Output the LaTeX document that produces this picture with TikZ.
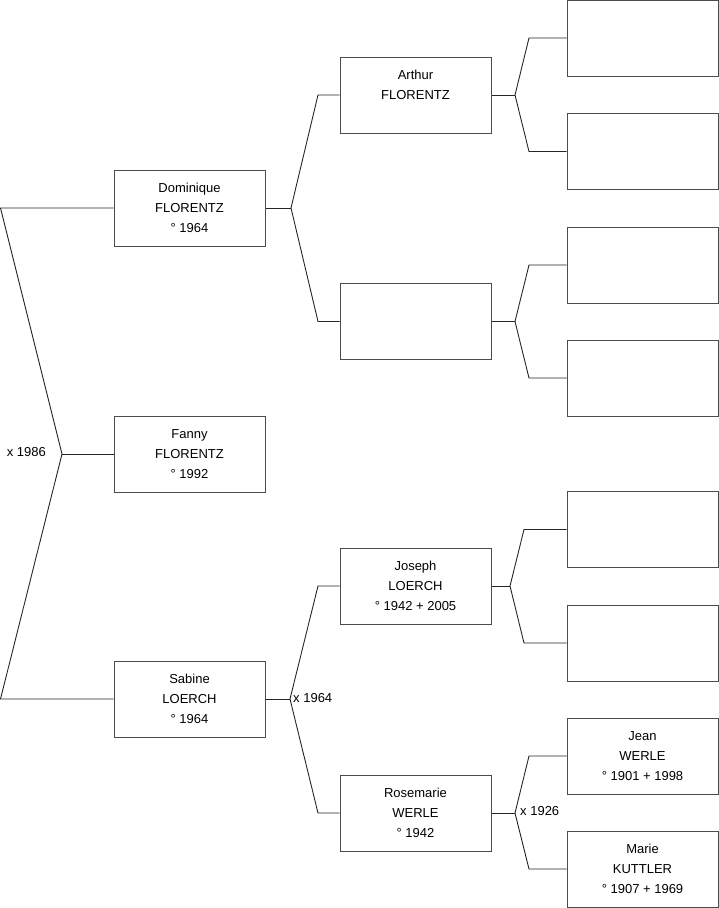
\documentclass[tikz,border=0pt]{standalone}
\usepackage{fontspec}
\setmainfont{Liberation Sans}
\begin{document}
\begin{tikzpicture}[x=1pt,y=-1pt,
  person/.style={draw=black!70,line width=1pt,minimum width=151pt,minimum height=76pt,inner sep=0pt,align=center,font=\fontsize{13}{20}\selectfont},
  conn/.style={draw=black!85,line width=0.9pt},
  marr/.style={font=\fontsize{13}{16}\selectfont,inner sep=0pt}]
\useasboundingbox (0,0) rectangle (719,908);
% column 1
\node[person] (dom) at (189.5,208) {Dominique\\FLORENTZ\\° 1964};
\node[person] (fan) at (189.5,454) {Fanny\\FLORENTZ\\° 1992};
\node[person] (sab) at (189.5,699) {Sabine\\LOERCH\\° 1964};
% column 2
\node[person] (art) at (415.5,95) {Arthur\\FLORENTZ\\~};
\node[person] (emp) at (415.5,321.5) {};
\node[person] (jos) at (415.5,586) {Joseph\\LOERCH\\° 1942 + 2005};
\node[person] (ros) at (415.5,813) {Rosemarie\\WERLE\\° 1942};
% column 3
\node[person] (r1) at (642.5,38) {};
\node[person] (r2) at (642.5,151.5) {};
\node[person] (r3) at (642.5,265) {};
\node[person] (r4) at (642.5,378) {};
\node[person] (r5) at (642.5,529.5) {};
\node[person] (r6) at (642.5,643) {};
\node[person] (jea) at (642.5,756) {Jean\\WERLE\\° 1901 + 1998};
\node[person] (mar) at (642.5,869) {Marie\\KUTTLER\\° 1907 + 1969};
% coordinates
\coordinate (L1) at (0.5,208);
\coordinate (L2) at (0.5,699);
\coordinate (J0) at (62,454);
\coordinate (J1) at (291,208);
\coordinate (B1a) at (318,95);
\coordinate (B1b) at (318,321.5);
\coordinate (J2) at (515,95);
\coordinate (B2a) at (529,38);
\coordinate (B2b) at (529,151.5);
\coordinate (J3) at (515,321.5);
\coordinate (B3a) at (529,265);
\coordinate (B3b) at (529,378);
\coordinate (J5) at (290,699);
\coordinate (B5a) at (318,586);
\coordinate (B5b) at (318,813);
\coordinate (J4) at (510,586);
\coordinate (B4a) at (524,529.5);
\coordinate (B4b) at (524,643);
\coordinate (J6) at (515,813);
\coordinate (B6a) at (529,756);
\coordinate (B6b) at (529,869);
% connectors
\draw[conn] (dom.west) -- (L1) -- (J0) -- (L2) -- (sab.west);
\draw[conn] (J0) -- (fan.west);
\draw[conn] (dom.east) -- (J1);
\draw[conn] (art.west) -- (B1a) -- (J1) -- (B1b) -- (emp.west);
\draw[conn] (art.east) -- (J2);
\draw[conn] (r1.west) -- (B2a) -- (J2) -- (B2b) -- (r2.west);
\draw[conn] (emp.east) -- (J3);
\draw[conn] (r3.west) -- (B3a) -- (J3) -- (B3b) -- (r4.west);
\draw[conn] (sab.east) -- (J5);
\draw[conn] (jos.west) -- (B5a) -- (J5) -- (B5b) -- (ros.west);
\draw[conn] (jos.east) -- (J4);
\draw[conn] (r5.west) -- (B4a) -- (J4) -- (B4b) -- (r6.west);
\draw[conn] (ros.east) -- (J6);
\draw[conn] (jea.west) -- (B6a) -- (J6) -- (B6b) -- (mar.west);
% marriage labels
\node[marr,anchor=east] (m1) at (46,452) {x 1986};
\node[marr,anchor=west] (m2) at (293,698) {x 1964};
\node[marr,anchor=west] (m3) at (520,811) {x 1926};
\end{tikzpicture}
\end{document}
